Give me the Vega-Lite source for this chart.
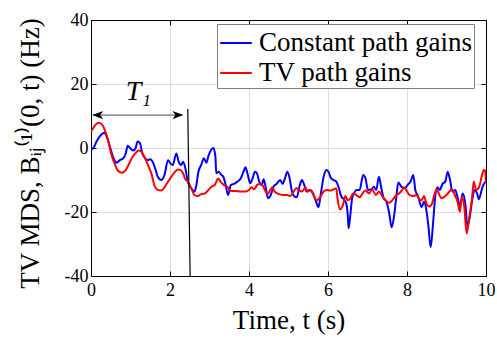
{
  "$schema": "https://vega.github.io/schema/vega-lite/v6.json",
  "width": 395,
  "height": 256,
  "autosize": {"type": "none"},
  "padding": {"left": 91, "top": 20, "right": 11, "bottom": 62},
  "background": "white",
  "config": {
    "view": {"stroke": "black", "strokeWidth": 1},
    "font": "Liberation Serif",
    "axis": {
      "labelFont": "Liberation Serif",
      "titleFont": "Liberation Serif",
      "labelColor": "black",
      "titleColor": "black",
      "titleFontWeight": "normal",
      "domainColor": "black",
      "tickColor": "black",
      "gridColor": "#dedede",
      "gridWidth": 1,
      "labelFlush": false
    }
  },
  "datasets": {
    "series": [
      {"t":0,"v":-0.4,"s":"Constant path gains"},{"t":0.06,"v":0,"s":"Constant path gains"},{"t":0.14,"v":2,"s":"Constant path gains"},{"t":0.23,"v":3.8,"s":"Constant path gains"},{"t":0.34,"v":4.8,"s":"Constant path gains"},{"t":0.4,"v":3.5,"s":"Constant path gains"},{"t":0.48,"v":0.4,"s":"Constant path gains"},{"t":0.57,"v":-3.2,"s":"Constant path gains"},{"t":0.65,"v":-4.6,"s":"Constant path gains"},{"t":0.73,"v":-3.8,"s":"Constant path gains"},{"t":0.82,"v":-3.2,"s":"Constant path gains"},{"t":0.88,"v":-1.7,"s":"Constant path gains"},{"t":0.93,"v":0.7,"s":"Constant path gains"},{"t":0.99,"v":0,"s":"Constant path gains"},{"t":1.07,"v":-0.8,"s":"Constant path gains"},{"t":1.13,"v":0,"s":"Constant path gains"},{"t":1.18,"v":2,"s":"Constant path gains"},{"t":1.24,"v":1.5,"s":"Constant path gains"},{"t":1.3,"v":-1.7,"s":"Constant path gains"},{"t":1.37,"v":-3.2,"s":"Constant path gains"},{"t":1.44,"v":-3.8,"s":"Constant path gains"},{"t":1.5,"v":-3.5,"s":"Constant path gains"},{"t":1.58,"v":-4.8,"s":"Constant path gains"},{"t":1.65,"v":-7.4,"s":"Constant path gains"},{"t":1.69,"v":-9,"s":"Constant path gains"},{"t":1.78,"v":-10,"s":"Constant path gains"},{"t":1.86,"v":-8.4,"s":"Constant path gains"},{"t":1.95,"v":-3.8,"s":"Constant path gains"},{"t":2.01,"v":-4.8,"s":"Constant path gains"},{"t":2.07,"v":-5.3,"s":"Constant path gains"},{"t":2.16,"v":-1.7,"s":"Constant path gains"},{"t":2.22,"v":-4.3,"s":"Constant path gains"},{"t":2.28,"v":-5.3,"s":"Constant path gains"},{"t":2.33,"v":-4.3,"s":"Constant path gains"},{"t":2.39,"v":-6.4,"s":"Constant path gains"},{"t":2.45,"v":-10.5,"s":"Constant path gains"},{"t":2.54,"v":-12.6,"s":"Constant path gains"},{"t":2.62,"v":-13.6,"s":"Constant path gains"},{"t":2.66,"v":-12.1,"s":"Constant path gains"},{"t":2.72,"v":-7.4,"s":"Constant path gains"},{"t":2.79,"v":-5.3,"s":"Constant path gains"},{"t":2.86,"v":-3.2,"s":"Constant path gains"},{"t":2.92,"v":-4.6,"s":"Constant path gains"},{"t":2.98,"v":-2.2,"s":"Constant path gains"},{"t":3.05,"v":-0.4,"s":"Constant path gains"},{"t":3.1,"v":0,"s":"Constant path gains"},{"t":3.15,"v":-2.7,"s":"Constant path gains"},{"t":3.17,"v":-7.9,"s":"Constant path gains"},{"t":3.23,"v":-7.4,"s":"Constant path gains"},{"t":3.3,"v":-8.4,"s":"Constant path gains"},{"t":3.35,"v":-9,"s":"Constant path gains"},{"t":3.41,"v":-11.6,"s":"Constant path gains"},{"t":3.47,"v":-14.7,"s":"Constant path gains"},{"t":3.54,"v":-11.6,"s":"Constant path gains"},{"t":3.62,"v":-11.2,"s":"Constant path gains"},{"t":3.71,"v":-10.5,"s":"Constant path gains"},{"t":3.79,"v":-9.5,"s":"Constant path gains"},{"t":3.86,"v":-7.4,"s":"Constant path gains"},{"t":3.91,"v":-6,"s":"Constant path gains"},{"t":3.96,"v":-7.9,"s":"Constant path gains"},{"t":4.03,"v":-11,"s":"Constant path gains"},{"t":4.09,"v":-9.5,"s":"Constant path gains"},{"t":4.15,"v":-7.4,"s":"Constant path gains"},{"t":4.2,"v":-7.9,"s":"Constant path gains"},{"t":4.26,"v":-10.5,"s":"Constant path gains"},{"t":4.32,"v":-11.6,"s":"Constant path gains"},{"t":4.37,"v":-9.8,"s":"Constant path gains"},{"t":4.42,"v":-12.1,"s":"Constant path gains"},{"t":4.48,"v":-15.7,"s":"Constant path gains"},{"t":4.55,"v":-14.7,"s":"Constant path gains"},{"t":4.62,"v":-12.1,"s":"Constant path gains"},{"t":4.7,"v":-11.2,"s":"Constant path gains"},{"t":4.79,"v":-10,"s":"Constant path gains"},{"t":4.85,"v":-11.2,"s":"Constant path gains"},{"t":4.91,"v":-9.5,"s":"Constant path gains"},{"t":4.97,"v":-7.4,"s":"Constant path gains"},{"t":5.02,"v":-9,"s":"Constant path gains"},{"t":5.08,"v":-13.1,"s":"Constant path gains"},{"t":5.14,"v":-15,"s":"Constant path gains"},{"t":5.21,"v":-15.4,"s":"Constant path gains"},{"t":5.28,"v":-11.9,"s":"Constant path gains"},{"t":5.34,"v":-10,"s":"Constant path gains"},{"t":5.4,"v":-11.6,"s":"Constant path gains"},{"t":5.46,"v":-13.6,"s":"Constant path gains"},{"t":5.53,"v":-13.1,"s":"Constant path gains"},{"t":5.62,"v":-14.2,"s":"Constant path gains"},{"t":5.7,"v":-16.8,"s":"Constant path gains"},{"t":5.76,"v":-18.5,"s":"Constant path gains"},{"t":5.82,"v":-14.2,"s":"Constant path gains"},{"t":5.89,"v":-9,"s":"Constant path gains"},{"t":5.96,"v":-6.9,"s":"Constant path gains"},{"t":6.01,"v":-7.4,"s":"Constant path gains"},{"t":6.08,"v":-9.5,"s":"Constant path gains"},{"t":6.14,"v":-10,"s":"Constant path gains"},{"t":6.21,"v":-10.5,"s":"Constant path gains"},{"t":6.27,"v":-12.3,"s":"Constant path gains"},{"t":6.33,"v":-15,"s":"Constant path gains"},{"t":6.4,"v":-16,"s":"Constant path gains"},{"t":6.46,"v":-17.3,"s":"Constant path gains"},{"t":6.5,"v":-20.9,"s":"Constant path gains"},{"t":6.52,"v":-25.1,"s":"Constant path gains"},{"t":6.57,"v":-20.4,"s":"Constant path gains"},{"t":6.61,"v":-15.7,"s":"Constant path gains"},{"t":6.66,"v":-14.2,"s":"Constant path gains"},{"t":6.72,"v":-13.1,"s":"Constant path gains"},{"t":6.8,"v":-13.1,"s":"Constant path gains"},{"t":6.89,"v":-8.4,"s":"Constant path gains"},{"t":6.95,"v":-9.5,"s":"Constant path gains"},{"t":7.01,"v":-13.1,"s":"Constant path gains"},{"t":7.1,"v":-12.9,"s":"Constant path gains"},{"t":7.16,"v":-12.1,"s":"Constant path gains"},{"t":7.22,"v":-13.1,"s":"Constant path gains"},{"t":7.29,"v":-9,"s":"Constant path gains"},{"t":7.35,"v":-12.6,"s":"Constant path gains"},{"t":7.41,"v":-15.7,"s":"Constant path gains"},{"t":7.48,"v":-16.8,"s":"Constant path gains"},{"t":7.55,"v":-20.4,"s":"Constant path gains"},{"t":7.61,"v":-24.8,"s":"Constant path gains"},{"t":7.67,"v":-21.5,"s":"Constant path gains"},{"t":7.73,"v":-15.2,"s":"Constant path gains"},{"t":7.78,"v":-10.8,"s":"Constant path gains"},{"t":7.86,"v":-12.1,"s":"Constant path gains"},{"t":7.94,"v":-12.6,"s":"Constant path gains"},{"t":8.01,"v":-11.6,"s":"Constant path gains"},{"t":8.09,"v":-10.5,"s":"Constant path gains"},{"t":8.16,"v":-8.4,"s":"Constant path gains"},{"t":8.21,"v":-13.1,"s":"Constant path gains"},{"t":8.28,"v":-15,"s":"Constant path gains"},{"t":8.37,"v":-18.5,"s":"Constant path gains"},{"t":8.43,"v":-16.8,"s":"Constant path gains"},{"t":8.49,"v":-19.4,"s":"Constant path gains"},{"t":8.54,"v":-24.1,"s":"Constant path gains"},{"t":8.6,"v":-31,"s":"Constant path gains"},{"t":8.66,"v":-23.5,"s":"Constant path gains"},{"t":8.71,"v":-15.7,"s":"Constant path gains"},{"t":8.77,"v":-12.3,"s":"Constant path gains"},{"t":8.83,"v":-13.1,"s":"Constant path gains"},{"t":8.9,"v":-11.2,"s":"Constant path gains"},{"t":8.97,"v":-10.5,"s":"Constant path gains"},{"t":9.03,"v":-7.4,"s":"Constant path gains"},{"t":9.09,"v":-10,"s":"Constant path gains"},{"t":9.15,"v":-13.6,"s":"Constant path gains"},{"t":9.22,"v":-13.1,"s":"Constant path gains"},{"t":9.28,"v":-15.4,"s":"Constant path gains"},{"t":9.34,"v":-18.3,"s":"Constant path gains"},{"t":9.41,"v":-14.2,"s":"Constant path gains"},{"t":9.48,"v":-17.8,"s":"Constant path gains"},{"t":9.53,"v":-24.6,"s":"Constant path gains"},{"t":9.59,"v":-21.5,"s":"Constant path gains"},{"t":9.65,"v":-16.3,"s":"Constant path gains"},{"t":9.71,"v":-13.1,"s":"Constant path gains"},{"t":9.77,"v":-14,"s":"Constant path gains"},{"t":9.82,"v":-16,"s":"Constant path gains"},{"t":9.88,"v":-13.6,"s":"Constant path gains"},{"t":9.93,"v":-11.6,"s":"Constant path gains"},{"t":10,"v":-10.5,"s":"Constant path gains"},
      {"t":0,"v":5.1,"s":"TV path gains"},{"t":0.08,"v":6.7,"s":"TV path gains"},{"t":0.19,"v":7.9,"s":"TV path gains"},{"t":0.27,"v":7.5,"s":"TV path gains"},{"t":0.35,"v":5.6,"s":"TV path gains"},{"t":0.44,"v":2,"s":"TV path gains"},{"t":0.52,"v":-2.2,"s":"TV path gains"},{"t":0.61,"v":-5.3,"s":"TV path gains"},{"t":0.69,"v":-7.2,"s":"TV path gains"},{"t":0.78,"v":-7.7,"s":"TV path gains"},{"t":0.86,"v":-7.2,"s":"TV path gains"},{"t":0.95,"v":-5.3,"s":"TV path gains"},{"t":1.03,"v":-3.2,"s":"TV path gains"},{"t":1.12,"v":-1.7,"s":"TV path gains"},{"t":1.2,"v":-0.8,"s":"TV path gains"},{"t":1.27,"v":-1.1,"s":"TV path gains"},{"t":1.35,"v":-2.7,"s":"TV path gains"},{"t":1.44,"v":-5.3,"s":"TV path gains"},{"t":1.54,"v":-8.4,"s":"TV path gains"},{"t":1.61,"v":-11.9,"s":"TV path gains"},{"t":1.69,"v":-13.1,"s":"TV path gains"},{"t":1.78,"v":-13.3,"s":"TV path gains"},{"t":1.86,"v":-12.3,"s":"TV path gains"},{"t":1.95,"v":-10.5,"s":"TV path gains"},{"t":2.03,"v":-9,"s":"TV path gains"},{"t":2.11,"v":-7.7,"s":"TV path gains"},{"t":2.2,"v":-6.7,"s":"TV path gains"},{"t":2.27,"v":-6.9,"s":"TV path gains"},{"t":2.33,"v":-7.9,"s":"TV path gains"},{"t":2.39,"v":-9.8,"s":"TV path gains"},{"t":2.45,"v":-10.5,"s":"TV path gains"},{"t":2.54,"v":-12.6,"s":"TV path gains"},{"t":2.62,"v":-14.7,"s":"TV path gains"},{"t":2.71,"v":-15,"s":"TV path gains"},{"t":2.79,"v":-14.4,"s":"TV path gains"},{"t":2.88,"v":-14.2,"s":"TV path gains"},{"t":2.96,"v":-13.3,"s":"TV path gains"},{"t":3.05,"v":-12.1,"s":"TV path gains"},{"t":3.13,"v":-11.6,"s":"TV path gains"},{"t":3.22,"v":-9.5,"s":"TV path gains"},{"t":3.28,"v":-10.5,"s":"TV path gains"},{"t":3.37,"v":-11.6,"s":"TV path gains"},{"t":3.45,"v":-12.1,"s":"TV path gains"},{"t":3.54,"v":-13.4,"s":"TV path gains"},{"t":3.66,"v":-13.4,"s":"TV path gains"},{"t":3.79,"v":-13.6,"s":"TV path gains"},{"t":3.92,"v":-13.6,"s":"TV path gains"},{"t":4,"v":-13.1,"s":"TV path gains"},{"t":4.06,"v":-12.3,"s":"TV path gains"},{"t":4.13,"v":-12.9,"s":"TV path gains"},{"t":4.2,"v":-11.6,"s":"TV path gains"},{"t":4.28,"v":-11.2,"s":"TV path gains"},{"t":4.34,"v":-11.6,"s":"TV path gains"},{"t":4.4,"v":-13.1,"s":"TV path gains"},{"t":4.47,"v":-14.4,"s":"TV path gains"},{"t":4.54,"v":-13.1,"s":"TV path gains"},{"t":4.59,"v":-12.3,"s":"TV path gains"},{"t":4.65,"v":-13.6,"s":"TV path gains"},{"t":4.76,"v":-14.4,"s":"TV path gains"},{"t":4.89,"v":-14.7,"s":"TV path gains"},{"t":4.97,"v":-14.7,"s":"TV path gains"},{"t":5.04,"v":-15,"s":"TV path gains"},{"t":5.13,"v":-13.6,"s":"TV path gains"},{"t":5.2,"v":-12.6,"s":"TV path gains"},{"t":5.26,"v":-13.1,"s":"TV path gains"},{"t":5.34,"v":-13.6,"s":"TV path gains"},{"t":5.43,"v":-12.3,"s":"TV path gains"},{"t":5.48,"v":-13.6,"s":"TV path gains"},{"t":5.57,"v":-13.1,"s":"TV path gains"},{"t":5.63,"v":-14.7,"s":"TV path gains"},{"t":5.72,"v":-16.3,"s":"TV path gains"},{"t":5.8,"v":-15.4,"s":"TV path gains"},{"t":5.89,"v":-13.6,"s":"TV path gains"},{"t":5.97,"v":-13.1,"s":"TV path gains"},{"t":6.06,"v":-13.3,"s":"TV path gains"},{"t":6.14,"v":-12.9,"s":"TV path gains"},{"t":6.21,"v":-12.6,"s":"TV path gains"},{"t":6.24,"v":-15.7,"s":"TV path gains"},{"t":6.31,"v":-19.2,"s":"TV path gains"},{"t":6.38,"v":-17.8,"s":"TV path gains"},{"t":6.44,"v":-15,"s":"TV path gains"},{"t":6.5,"v":-16.3,"s":"TV path gains"},{"t":6.57,"v":-15.7,"s":"TV path gains"},{"t":6.63,"v":-14.2,"s":"TV path gains"},{"t":6.72,"v":-14.7,"s":"TV path gains"},{"t":6.8,"v":-15.4,"s":"TV path gains"},{"t":6.89,"v":-13.9,"s":"TV path gains"},{"t":6.95,"v":-13.3,"s":"TV path gains"},{"t":7.04,"v":-14.2,"s":"TV path gains"},{"t":7.12,"v":-12.9,"s":"TV path gains"},{"t":7.21,"v":-14.7,"s":"TV path gains"},{"t":7.29,"v":-13.6,"s":"TV path gains"},{"t":7.38,"v":-15.2,"s":"TV path gains"},{"t":7.46,"v":-16.3,"s":"TV path gains"},{"t":7.55,"v":-17.1,"s":"TV path gains"},{"t":7.63,"v":-16.3,"s":"TV path gains"},{"t":7.71,"v":-15,"s":"TV path gains"},{"t":7.8,"v":-14.2,"s":"TV path gains"},{"t":7.88,"v":-13.1,"s":"TV path gains"},{"t":7.94,"v":-12.3,"s":"TV path gains"},{"t":8,"v":-13.6,"s":"TV path gains"},{"t":8.07,"v":-14.7,"s":"TV path gains"},{"t":8.16,"v":-15,"s":"TV path gains"},{"t":8.24,"v":-14.7,"s":"TV path gains"},{"t":8.31,"v":-16,"s":"TV path gains"},{"t":8.37,"v":-16.3,"s":"TV path gains"},{"t":8.43,"v":-15,"s":"TV path gains"},{"t":8.49,"v":-17.3,"s":"TV path gains"},{"t":8.56,"v":-18.3,"s":"TV path gains"},{"t":8.63,"v":-17.5,"s":"TV path gains"},{"t":8.69,"v":-14.7,"s":"TV path gains"},{"t":8.75,"v":-12.9,"s":"TV path gains"},{"t":8.82,"v":-14.7,"s":"TV path gains"},{"t":8.88,"v":-15.7,"s":"TV path gains"},{"t":8.97,"v":-15,"s":"TV path gains"},{"t":9.05,"v":-14,"s":"TV path gains"},{"t":9.13,"v":-12.9,"s":"TV path gains"},{"t":9.22,"v":-15,"s":"TV path gains"},{"t":9.28,"v":-16.8,"s":"TV path gains"},{"t":9.34,"v":-19.9,"s":"TV path gains"},{"t":9.39,"v":-15.2,"s":"TV path gains"},{"t":9.45,"v":-18.3,"s":"TV path gains"},{"t":9.51,"v":-26.7,"s":"TV path gains"},{"t":9.58,"v":-21.5,"s":"TV path gains"},{"t":9.65,"v":-15.2,"s":"TV path gains"},{"t":9.69,"v":-10.5,"s":"TV path gains"},{"t":9.75,"v":-13.1,"s":"TV path gains"},{"t":9.83,"v":-12.1,"s":"TV path gains"},{"t":9.9,"v":-8.4,"s":"TV path gains"},{"t":9.95,"v":-6.9,"s":"TV path gains"},{"t":9.98,"v":-7.2,"s":"TV path gains"},{"t":10,"v":-11,"s":"TV path gains"}
    ],
    "vline": [{"t": 2.45, "v": 12.2}, {"t": 2.51, "v": -40}],
    "arrow": [{"t": 0.05, "v": 10.3}, {"t": 2.3, "v": 10.3}],
    "heads": [{"t": 0.17, "v": 10.3, "dir": "left"}, {"t": 2.2, "v": 10.3, "dir": "right"}],
    "label": [{"t": 1.2, "v": 17.5, "txt": "T₁"}]
  },
  "layer": [
    {
      "data": {"name": "series"},
      "mark": {"type": "line", "strokeWidth": 2, "interpolate": "monotone", "clip": true},
      "encoding": {
        "x": {"field": "t", "type": "quantitative",
          "scale": {"domain": [0, 10], "nice": false},
          "axis": {"values": [0, 2, 4, 6, 8, 10], "grid": true, "tickSize": -5, "labelFont": "Liberation Serif", "labelFontSize": 18, "labelPadding": 10, "labelFlush": false,
            "title": "Time, t (s)", "titleFont": "Liberation Serif", "titleFontSize": 27, "titleBaseline": "alphabetic", "titleY": 52, "labelExpr": "'' + datum.value"}},
        "y": {"field": "v", "type": "quantitative",
          "scale": {"domain": [-40, 40], "nice": false},
          "axis": {"values": [-40, -20, 0, 20, 40], "grid": true, "tickSize": -5, "labelFont": "Liberation Serif", "labelFontSize": 18, "labelPadding": 8, "labelFlush": false,
            "title": "TV MDS, Bᵢⱼ⁽¹⁾(0, t) (Hz)", "titleFont": "Liberation Serif", "titleFontSize": 27, "titleX": -53, "titleY": 133, "titleAngle": -90, "titleBaseline": "alphabetic", "titleAlign": "center", "labelExpr": "'' + datum.value"}},
        "color": {"field": "s", "type": "nominal",
          "scale": {"domain": ["Constant path gains", "TV path gains"], "range": ["#0000ff", "#ff0000"]},
          "legend": {"orient": "none", "legendX": 126, "legendY": 4, "title": null, "symbolType": "stroke", "symbolSize": 1000, "symbolStrokeWidth": 2,
            "labelFont": "Liberation Serif", "labelFontSize": 27, "labelColor": "black", "labelLimit": 400, "labelOffset": 6,
            "strokeColor": "#808080", "fillColor": "white", "padding": 2, "rowPadding": 0, "cornerRadius": 0}}
      }
    },
    {
      "data": {"name": "vline"},
      "mark": {"type": "line", "color": "black", "strokeWidth": 1.2},
      "encoding": {
        "x": {"field": "t", "type": "quantitative",
          "axis": {"orient": "top", "values": [0, 2, 4, 6, 8, 10], "labels": false, "title": null, "grid": false, "tickSize": -5}},
        "y": {"field": "v", "type": "quantitative",
          "axis": {"orient": "right", "values": [-40, -20, 0, 20, 40], "labels": false, "title": null, "grid": false, "tickSize": -5}}
      }
    },
    {
      "data": {"name": "arrow"},
      "mark": {"type": "line", "color": "#707070", "strokeWidth": 1.2},
      "encoding": {
        "x": {"field": "t", "type": "quantitative", "axis": null},
        "y": {"field": "v", "type": "quantitative", "axis": null}
      }
    },
    {
      "data": {"name": "heads"},
      "mark": {"type": "point", "filled": true, "color": "black", "opacity": 1, "size": 120},
      "encoding": {
        "x": {"field": "t", "type": "quantitative", "axis": null},
        "y": {"field": "v", "type": "quantitative", "axis": null},
        "shape": {"field": "dir", "type": "nominal", "legend": null,
          "scale": {"domain": ["left", "right"], "range": ["M -1 0 L 1 -0.75 L 0.45 0 L 1 0.75 Z", "M 1 0 L -1 -0.75 L -0.45 0 L -1 0.75 Z"]}}
      }
    },
    {
      "data": {"name": "label"},
      "mark": {"type": "text", "font": "Liberation Serif", "fontSize": 28, "fontStyle": "italic", "color": "black", "align": "center", "baseline": "middle"},
      "encoding": {
        "x": {"field": "t", "type": "quantitative", "axis": null},
        "y": {"field": "v", "type": "quantitative", "axis": null},
        "text": {"field": "txt"}
      }
    }
  ],
  "resolve": {"axis": {"x": "independent", "y": "independent"}}
}
